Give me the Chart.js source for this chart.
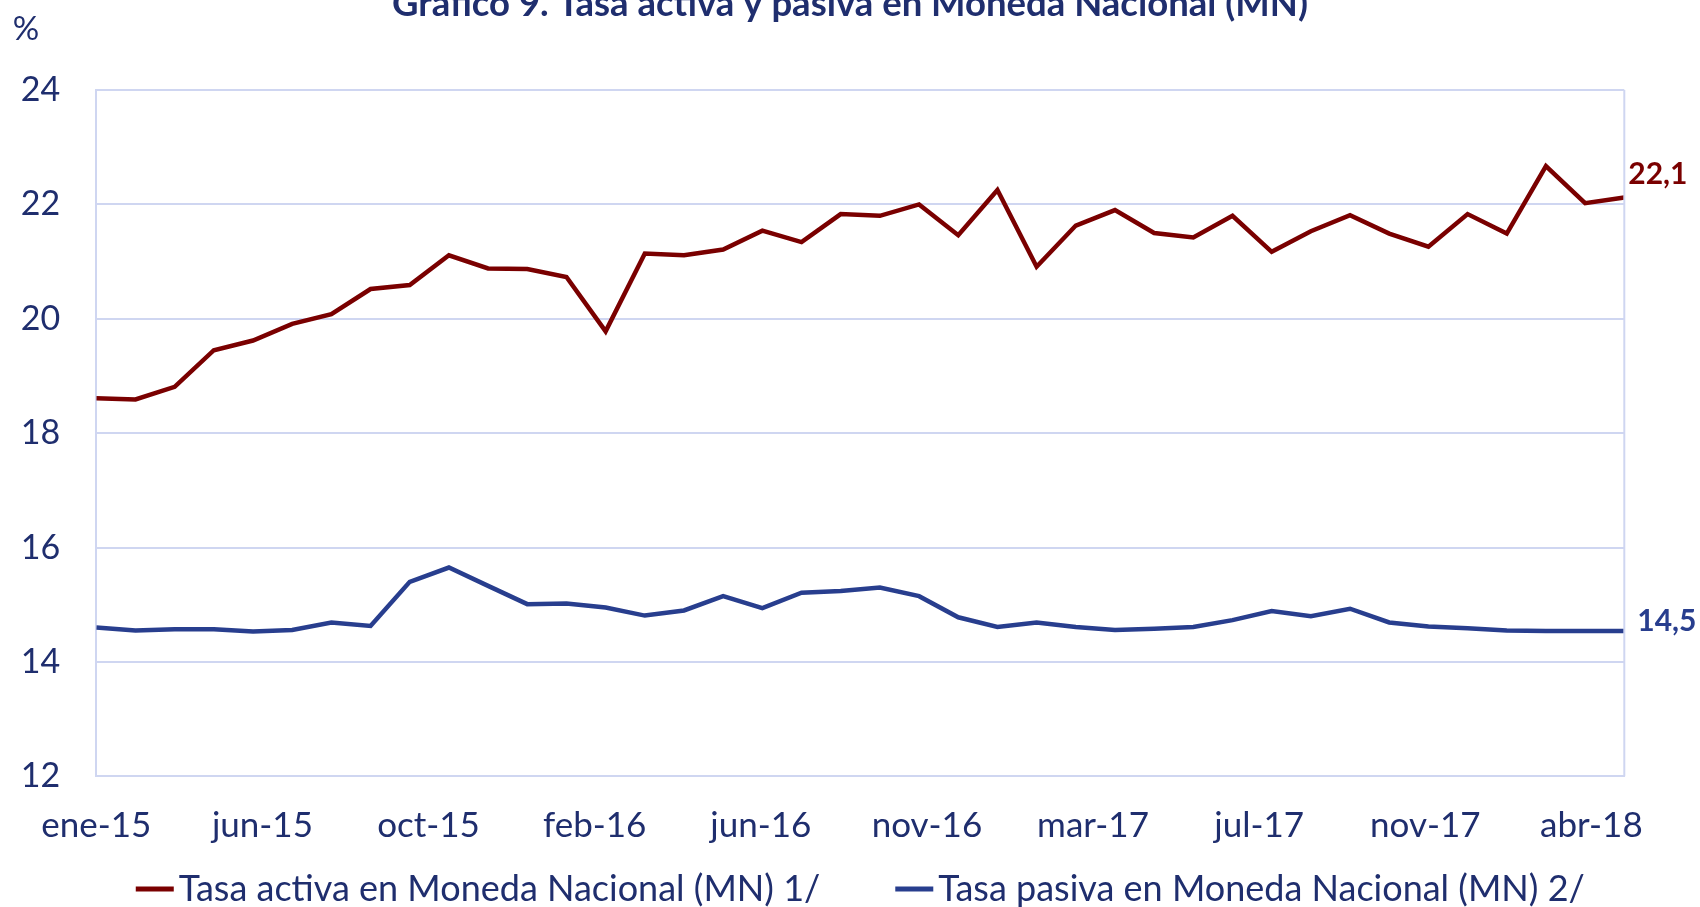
<!DOCTYPE html>
<html>
<head>
<meta charset="utf-8">
<script src="https://cdn.jsdelivr.net/npm/chart.js@4.4.1/dist/chart.umd.min.js"></script>
<style>
  html, body { margin: 0; padding: 0; background: #ffffff; }
  #wrap { width: 1700px; height: 907px; position: relative; }
</style>
</head>
<body>
<div id="wrap"><canvas id="tasasChart"></canvas></div>
<script>
// Meses ene-15 ... abr-18
const meses = [
  "ene-15","feb-15","mar-15","abr-15","may-15","jun-15","jul-15","ago-15","sep-15","oct-15","nov-15","dic-15",
  "ene-16","feb-16","mar-16","abr-16","may-16","jun-16","jul-16","ago-16","sep-16","oct-16","nov-16","dic-16",
  "ene-17","feb-17","mar-17","abr-17","may-17","jun-17","jul-17","ago-17","sep-17","oct-17","nov-17","dic-17",
  "ene-18","feb-18","mar-18","abr-18"
];

// Tasa activa en MN (%)
const tasaActiva = [
  18.61, 18.59, 18.81, 19.45, 19.62, 19.91, 20.08, 20.52, 20.59, 21.11,
  20.88, 20.87, 20.73, 19.78, 21.14, 21.11, 21.21, 21.54, 21.34, 21.83,
  21.80, 22.00, 21.46, 22.25, 20.91, 21.63, 21.90, 21.50, 21.42, 21.80,
  21.17, 21.53, 21.81, 21.49, 21.26, 21.83, 21.49, 22.67, 22.02, 22.12
];

// Tasa pasiva en MN (%)
const tasaPasiva = [
  14.60, 14.55, 14.57, 14.57, 14.53, 14.56, 14.69, 14.63, 15.40, 15.65,
  15.33, 15.01, 15.02, 14.95, 14.81, 14.90, 15.15, 14.94, 15.21, 15.24,
  15.30, 15.15, 14.78, 14.61, 14.69, 14.61, 14.56, 14.58, 14.61, 14.73,
  14.89, 14.80, 14.93, 14.69, 14.62, 14.59, 14.55, 14.54, 14.54, 14.54
];

// Etiquetas del eje X (eje de fechas de Excel, un rótulo cada ~4,24 meses)
const etiquetasX = ["ene-15","jun-15","oct-15","feb-16","jun-16","nov-16","mar-17","jul-17","nov-17","abr-18"];
const pasoEtiquetas = 4.24;

const nombres = ["Tasa activa en Moneda Nacional (MN) 1/", "Tasa pasiva en Moneda Nacional (MN) 2/"];
const colores = ["#7a0000", "#283e8e"];
const colorTexto = "#1f2e6e";
const colorGrid = "#cfd6f1";
const fuente = "Lato, 'Open Sans', sans-serif";

// Plugin para título, "%", valores finales y leyenda
const extras = {
  id: "extras",
  afterDraw(chart) {
    const ctx = chart.ctx;
    const area = chart.chartArea;
    ctx.save();

    // borde derecho del área
    ctx.strokeStyle = colorGrid;
    ctx.lineWidth = 2;
    ctx.beginPath();
    ctx.moveTo(area.right, area.top);
    ctx.lineTo(area.right, area.bottom);
    ctx.stroke();

    // título (cortado arriba como en el original)
    ctx.fillStyle = colorTexto;
    ctx.font = "bold 36.5px " + fuente;
    ctx.textAlign = "center";
    ctx.textBaseline = "alphabetic";
    ctx.fillText("Gráfico 9. Tasa activa y pasiva en Moneda Nacional (MN)", 850, 16);

    // unidad
    ctx.font = "33px " + fuente;
    ctx.textAlign = "center";
    ctx.fillText("%", 26, 40);

    // valores finales
    const offs = [[4, -14], [13, 0]];
    chart.data.datasets.forEach((ds, i) => {
      const meta = chart.getDatasetMeta(i);
      const p = meta.data[meta.data.length - 1];
      const v = ds.data[ds.data.length - 1].y;
      ctx.font = "bold 30px " + fuente;
      ctx.fillStyle = colores[i];
      ctx.textAlign = "left";
      ctx.textBaseline = "alphabetic";
      ctx.fillText(v.toFixed(1).replace(".", ","), p.x + offs[i][0], p.y + offs[i][1]);
    });

    // leyenda
    ctx.font = "36px " + fuente;
    const marca = 38, hueco = 5, sep = 75;
    const anchos = chart.data.datasets.map(ds => marca + hueco + ctx.measureText(ds.label).width);
    const total = anchos.reduce((a, b) => a + b, 0) + sep * (anchos.length - 1);
    let x = (area.left + area.right) / 2 - total / 2;
    const y = 889;
    chart.data.datasets.forEach((ds, i) => {
      ctx.fillStyle = colores[i];
      ctx.fillRect(x, y - 2.5, marca, 5);
      ctx.fillStyle = colorTexto;
      ctx.textAlign = "left";
      ctx.textBaseline = "middle";
      ctx.fillText(ds.label, x + marca + hueco, y);
      x += anchos[i] + sep;
    });

    ctx.restore();
  }
};

const ctx = document.getElementById("tasasChart").getContext("2d");
const tasasChart = new Chart(ctx, {
  type: "line",
  data: {
    labels: meses,
    datasets: [
      {
        label: nombres[0],
        data: tasaActiva.map((v, i) => ({ x: i, y: v })),
        borderColor: colores[0],
        backgroundColor: colores[0],
        borderWidth: 4.5,
        pointRadius: 0,
        tension: 0
      },
      {
        label: nombres[1],
        data: tasaPasiva.map((v, i) => ({ x: i, y: v })),
        borderColor: colores[1],
        backgroundColor: colores[1],
        borderWidth: 4.5,
        pointRadius: 0,
        tension: 0
      }
    ]
  },
  options: {
    responsive: true,
    maintainAspectRatio: false,
    animation: false,
    layout: { padding: { top: 90, right: 75.7, left: 0, bottom: 0 } },
    plugins: {
      legend: { display: false },
      title: { display: false },
      tooltip: { enabled: false }
    },
    scales: {
      x: {
        type: "linear",
        min: 0,
        max: meses.length - 1,
        afterBuildTicks: scale => {
          scale.ticks = etiquetasX.map((l, i) => ({ value: i * pasoEtiquetas }));
        },
        afterFit: scale => { scale.height = 130.7; },
        grid: { display: false, drawTicks: false },
        border: { display: true, color: colorGrid, width: 2 },
        ticks: {
          autoSkip: false,
          maxRotation: 0,
          padding: 28,
          color: colorTexto,
          font: { family: fuente, size: 35 },
          callback: (value, index) => etiquetasX[index]
        }
      },
      y: {
        min: 12,
        max: 24,
        afterFit: scale => { scale.width = 96.3; },
        grid: { color: colorGrid, lineWidth: 2, drawTicks: false },
        border: { display: true, color: colorGrid, width: 2 },
        ticks: {
          stepSize: 2,
          padding: 36,
          color: colorTexto,
          font: { family: fuente, size: 34 }
        }
      }
    }
  },
  plugins: [extras]
});
</script>
</body>
</html>
